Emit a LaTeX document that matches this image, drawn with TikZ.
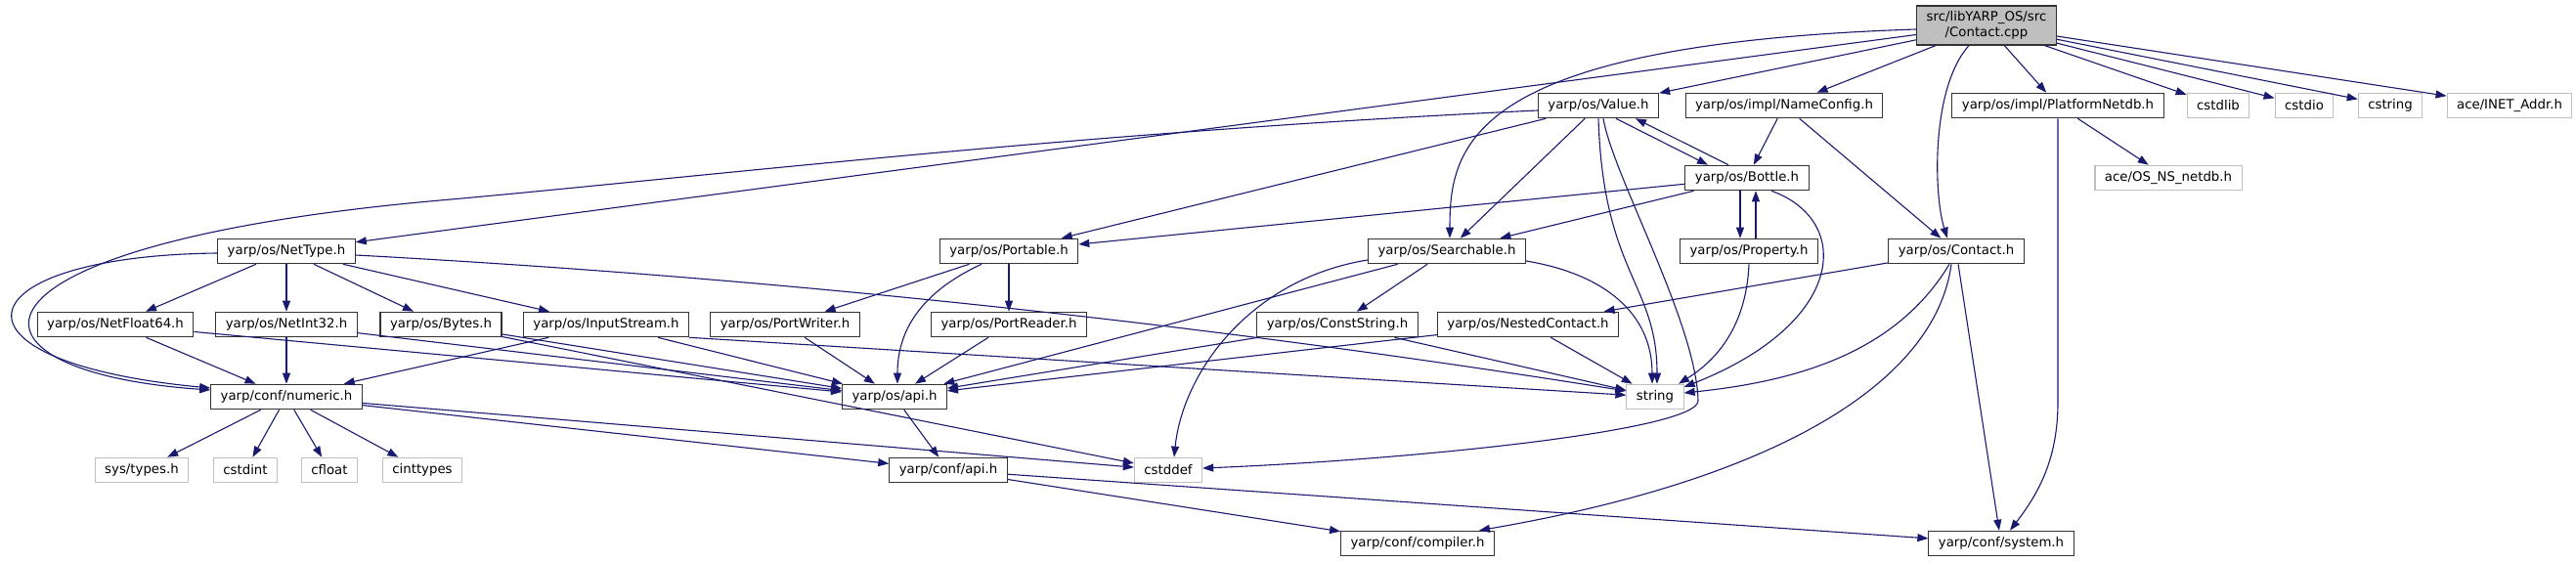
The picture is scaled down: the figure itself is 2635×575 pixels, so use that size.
\documentclass[tikz,border=0pt]{standalone}
\usepackage{fontspec}
\setmainfont{DejaVu Sans}
\usetikzlibrary{arrows.meta}
\definecolor{edgeblue}{HTML}{191970}
\definecolor{grey75}{HTML}{BFBFBF}
\definecolor{boxline}{HTML}{333333}
\begin{document}
\begin{tikzpicture}[
  x=1pt, y=-1pt,
  every node/.style={draw=boxline, fill=white, line width=1.1pt, inner xsep=10pt, inner ysep=2pt,
    minimum height=25.5pt, font=\fontsize{13.3}{16}\selectfont},
  extfile/.style={draw=grey75},
  rootfile/.style={fill=grey75, align=center, minimum height=40pt},
  arrow/.style={-{Triangle[length=11pt,width=8pt]}, draw=edgeblue, line width=1.1pt}
]
\useasboundingbox (0,0) rectangle (2635,575);
\fill[white] (0,0) rectangle (2635,575);
\node[rootfile] (cpp) at (2032,26) {src/libYARP\_OS/src\\/Contact.cpp};
\node (value) at (1635,108) {yarp/os/Value.h};
\node (nameconfig) at (1825,108) {yarp/os/impl/NameConfig.h};
\node (netdb) at (2105,108) {yarp/os/impl/PlatformNetdb.h};
\node[extfile] (cstdlib) at (2269,108) {cstdlib};
\node[extfile] (cstdio) at (2357,108) {cstdio};
\node[extfile] (cstring) at (2445,108) {cstring};
\node[extfile] (inetaddr) at (2567,108) {ace/INET\_Addr.h};
\node (bottle) at (1787,182) {yarp/os/Bottle.h};
\node[extfile] (osnetdb) at (2218,182) {ace/OS\_NS\_netdb.h};
\node (nettype) at (293,257) {yarp/os/NetType.h};
\node (portable) at (1032,257) {yarp/os/Portable.h};
\node (searchable) at (1480,257) {yarp/os/Searchable.h};
\node (property) at (1789,257) {yarp/os/Property.h};
\node (contact) at (2001,257) {yarp/os/Contact.h};
\node (float64) at (118,332) {yarp/os/NetFloat64.h};
\node (int32) at (293,332) {yarp/os/NetInt32.h};
\node (bytes) at (451,332) {yarp/os/Bytes.h};
\node (instream) at (620,332) {yarp/os/InputStream.h};
\node (pwriter) at (803,332) {yarp/os/PortWriter.h};
\node (preader) at (1032,332) {yarp/os/PortReader.h};
\node (conststr) at (1368,332) {yarp/os/ConstString.h};
\node (nested) at (1563,332) {yarp/os/NestedContact.h};
\node (numeric) at (293,406) {yarp/conf/numeric.h};
\node (osapi) at (915,406) {yarp/os/api.h};
\node[extfile] (string) at (1693,406) {string};
\node[extfile] (systypes) at (145,481) {sys/types.h};
\node[extfile] (cstdint) at (251,481) {cstdint};
\node[extfile] (cfloat) at (337,481) {cfloat};
\node[extfile] (cinttypes) at (432,481) {cinttypes};
\node (confapi) at (970,481) {yarp/conf/api.h};
\node[extfile] (cstddef) at (1195,481) {cstddef};
\node (compiler) at (1450,556) {yarp/conf/compiler.h};
\node (system) at (2047,556) {yarp/conf/system.h};
\draw[arrow] (cpp) -- (value);
\draw[arrow] (cpp) -- (nameconfig);
\draw[arrow] ([xshift=-18pt]cpp.south) .. controls (1975,90) and (1978,200) .. ([xshift=-9pt]contact.north);
\draw[arrow] (cpp) -- (netdb);
\draw[arrow] (cpp) -- (cstdlib);
\draw[arrow] (cpp) -- (cstdio);
\draw[arrow] (cpp) -- (cstring);
\draw[arrow] (cpp) -- (inetaddr);
\draw[arrow] ([yshift=-4pt]cpp.west) .. controls (1500,45) and (1483,150) .. ([xshift=3pt]searchable.north);
\draw[arrow] (cpp) -- (nettype);
\draw[arrow] ([yshift=-5pt]value.west) .. controls (1100,135) and (700,183) .. (450,205) .. controls (-60,250) and (-60,380) .. ([yshift=7pt]numeric.west);
\draw[arrow] (value) -- (portable);
\draw[arrow] (value) -- (searchable);
\draw[arrow] ([xshift=18pt]value.south) -- ([xshift=-40pt]bottle.north);
\draw[arrow] ([xshift=-19pt]bottle.north) -- ([xshift=38pt]value.south);
\draw[arrow] (value.south) .. controls (1640,280) and (1695,290) .. ([xshift=2pt]string.north);
\draw[arrow] ([xshift=5pt]value.south) .. controls (1650,180) and (1735,330) .. (1737,410) .. controls (1737,440) and (1450,470) .. ([yshift=2pt]cstddef.east);
\draw[arrow] (bottle) -- (portable);
\draw[arrow] (bottle) -- (searchable);
\draw[arrow] ([xshift=-7pt]bottle.south) -- ([xshift=-9pt]property.north);
\draw[arrow] ([xshift=7pt]property.north) -- ([xshift=9pt]bottle.south);
\draw[arrow] ([xshift=25pt]bottle.south) .. controls (1895,225) and (1890,330) .. ([yshift=10pt]string.east);
\draw[arrow] (nameconfig) -- (bottle);
\draw[arrow] (nameconfig) -- (contact);
\draw[arrow] (property.south) .. controls (1786,340) and (1750,372) .. ([xshift=24pt]string.north);
\draw[arrow] (contact) -- (nested);
\draw[arrow] ([xshift=-7pt]contact.south) .. controls (1940,360) and (1840,390) .. ([yshift=4pt]string.east);
\draw[arrow] ([xshift=-5pt]contact.south) .. controls (1980,390) and (1820,490) .. ([xshift=63pt]compiler.north);
\draw[arrow] (contact) -- (system);
\draw[arrow] (netdb.south) -- ++(0,290) .. controls (2105,470) and (2085,505) .. ([xshift=9pt]system.north);
\draw[arrow] (netdb) -- (osnetdb);
\draw[arrow] ([yshift=-9pt]searchable.west) .. controls (1280,285) and (1210,380) .. ([xshift=6pt]cstddef.north);
\draw[arrow] (searchable) -- (osapi);
\draw[arrow] (searchable) -- (conststr);
\draw[arrow] ([yshift=-10pt]searchable.east) .. controls (1640,280) and (1690,320) .. ([xshift=-3pt]string.north);
\draw[arrow] (conststr) -- (osapi);
\draw[arrow] (conststr) -- (string);
\draw[arrow] (nested) -- (osapi);
\draw[arrow] (nested) -- (string);
\draw[arrow] (portable) -- (pwriter);
\draw[arrow] ([xshift=-28pt]portable.south) .. controls (940,300) and (918,340) .. ([xshift=3pt]osapi.north);
\draw[arrow] (portable) -- (preader);
\draw[arrow] (pwriter) -- (osapi);
\draw[arrow] (preader) -- (osapi);
\draw[arrow] (nettype) -- (float64);
\draw[arrow] (nettype) -- (int32);
\draw[arrow] (nettype) -- (bytes);
\draw[arrow] (nettype) -- (instream);
\draw[arrow] ([yshift=-2pt]nettype.west) .. controls (-40,262) and (-70,370) .. ([yshift=9pt]numeric.west);
\draw[arrow] ([yshift=-4pt]nettype.east) .. controls (900,290) and (1350,350) .. ([yshift=6pt]string.west);
\draw[arrow] (float64) -- (numeric);
\draw[arrow] (float64) -- (osapi);
\draw[arrow] (int32) -- (numeric);
\draw[arrow] (int32) -- (osapi);
\draw[arrow] (bytes) -- (osapi);
\draw[arrow] (bytes) -- (cstddef);
\draw[arrow] (instream) -- (numeric);
\draw[arrow] (instream) -- (osapi);
\draw[arrow] (instream.south east) -- (string);
\draw[arrow] (numeric) -- (systypes);
\draw[arrow] (numeric) -- (cstdint);
\draw[arrow] (numeric) -- (cfloat);
\draw[arrow] (numeric) -- (cinttypes);
\draw[arrow] (numeric) -- (cstddef);
\draw[arrow] (numeric) -- (confapi);
\draw[arrow] (osapi) -- (confapi);
\draw[arrow] (confapi) -- (compiler);
\draw[arrow] (confapi) -- (system);
\end{tikzpicture}
\end{document}
